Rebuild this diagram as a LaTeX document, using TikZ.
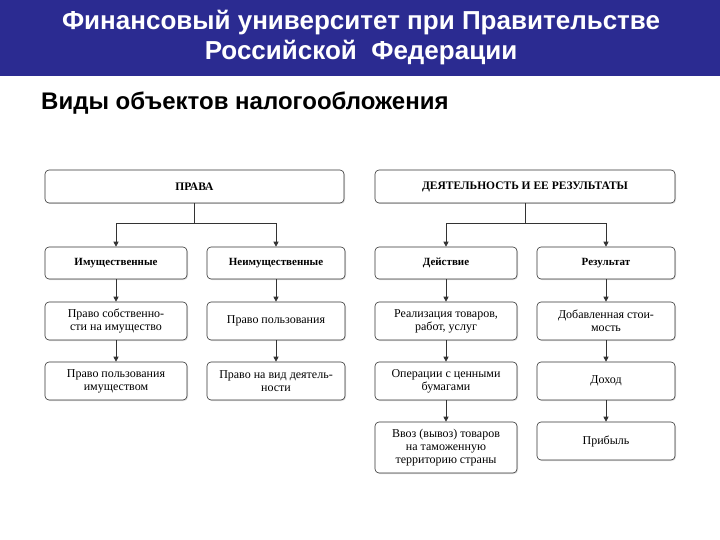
\documentclass[tikz,border=0pt]{standalone}
\usepackage{fontspec}
\setmainfont{Liberation Serif}
\newfontfamily\hdr{Liberation Sans}
\usetikzlibrary{arrows.meta,shadows}
\definecolor{band}{RGB}{43,43,145}
\tikzset{
 bx/.style={draw=black!80,line width=0.6pt,rounded corners=4pt,fill=white,
   drop shadow={shadow xshift=1pt,shadow yshift=-1pt,fill=black!25},
   align=center,font=\fontsize{12}{13}\selectfont,inner sep=1pt},
 ttl/.style={font=\bfseries\fontsize{11.5}{12}\selectfont},
 sub/.style={font=\bfseries\fontsize{11}{12}\selectfont},
 ar/.style={draw=black!80,line width=0.6pt,-{Triangle[length=5pt,width=5pt]}},
 ln/.style={draw=black!80,line width=0.6pt}
}
\newcommand{\bxat}[6]{\node[bx,minimum width=#3-#2,minimum height=#5-#4,#6] (#1) at ({(#2+#3)/2},{-(#4+#5)/2})}
\begin{document}
\begin{tikzpicture}[x=1pt,y=1pt]
\useasboundingbox (0,0) rectangle (720,-540);
\fill[band] (0,0) rectangle (720,-76);
\node[font=\hdr\bfseries\fontsize{26}{30}\selectfont,text=white,align=center] (h) at (361,-38) {Финансовый университет при Правительстве\\Российской\ \ Федерации};
\node[font=\hdr\bfseries\fontsize{24}{26}\selectfont,anchor=west,inner sep=0pt] (s) at (41,-103) {Виды объектов налогообложения};
\bxat{p}{45}{344}{170}{203}{ttl}{ПРАВА};
\bxat{d}{375}{675}{170}{203}{ttl}{ДЕЯТЕЛЬНОСТЬ И ЕЕ РЕЗУЛЬТАТЫ};
\bxat{a1}{45}{187}{247}{279}{sub}{Имущественные};
\bxat{b1}{207}{345}{247}{279}{sub}{Неимущественные};
\bxat{c1}{375}{517}{247}{279}{sub}{Действие};
\bxat{e1}{537}{675}{247}{279}{sub}{Результат};
\bxat{a2}{45}{187}{302}{340}{}{Право собственно-\\сти на имущество};
\bxat{b2}{207}{345}{302}{340}{}{Право пользования};
\bxat{c2}{375}{517}{302}{340}{}{Реализация товаров,\\работ, услуг};
\bxat{e2}{537}{675}{302}{340}{}{Добавленная стои-\\мость};
\bxat{a3}{45}{187}{362}{400}{}{Право пользования\\имуществом};
\bxat{b3}{207}{345}{362}{400}{}{Право на вид деятель-\\ности};
\bxat{c3}{375}{517}{362}{400}{}{Операции с ценными\\бумагами};
\bxat{e3}{537}{675}{362}{400}{}{Доход};
\bxat{c4}{375}{517}{422}{473}{}{Ввоз (вывоз) товаров\\на таможенную\\территорию страны};
\bxat{e4}{537}{675}{422}{460}{}{Прибыль};
\coordinate (pj) at (p.south |- 0,-223);
\coordinate (dj) at (d.south |- 0,-223);
\draw[ln] (p.south) -- (pj);
\draw[ar] (pj) -| (a1.north);
\draw[ar] (pj) -| (b1.north);
\draw[ln] (d.south) -- (dj);
\draw[ar] (dj) -| (c1.north);
\draw[ar] (dj) -| (e1.north);
\draw[ar] (a1) -- (a2); \draw[ar] (a2) -- (a3);
\draw[ar] (b1) -- (b2); \draw[ar] (b2) -- (b3);
\draw[ar] (c1) -- (c2); \draw[ar] (c2) -- (c3); \draw[ar] (c3) -- (c4);
\draw[ar] (e1) -- (e2); \draw[ar] (e2) -- (e3); \draw[ar] (e3) -- (e4);
\end{tikzpicture}
\end{document}
